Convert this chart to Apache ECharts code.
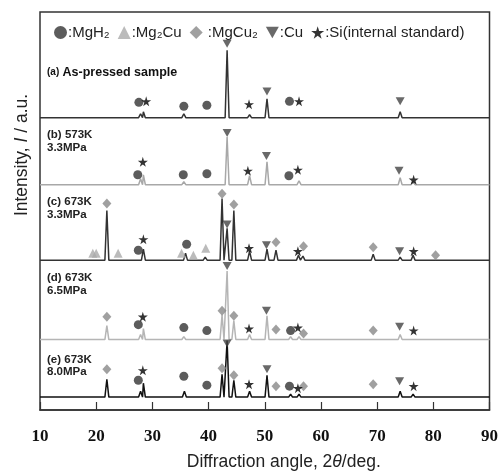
<!DOCTYPE html>
<html>
<head>
<meta charset="utf-8">
<script src="https://cdn.jsdelivr.net/npm/echarts@6/dist/echarts.min.js"></script>
<style>
  html, body { margin: 0; padding: 0; background: #fff; }
  #chart { width: 501px; height: 476px; }
</style>
</head>
<body>
<div id="chart"></div>
<script>
// x axis ticks
var xTicks = [10, 20, 30, 40, 50, 60, 70, 80, 90];

// peak lists per pattern: [2theta, peak height]
var peaksA = [[27.9, 4], [28.4, 6], [35.6, 4], [39.8, 2], [43.3, 68], [47.3, 3], [50.4, 19], [54.6, 2], [56.1, 2], [74.1, 6]];
var peaksB = [[27.9, 6], [28.4, 10], [35.6, 3], [39.8, 2], [43.3, 48], [47.3, 9], [50.4, 23], [54.6, 2], [56.1, 4], [74.1, 7], [76.4, 3]];
var peaksC = [[19.4, 2], [20.0, 2], [21.9, 50], [23.9, 1], [28.4, 11], [35.9, 7], [37.3, 2], [39.4, 3], [42.4, 62], [43.3, 32], [44.5, 50],
  [47.3, 9], [50.4, 11], [52.0, 10], [56.0, 5], [56.8, 4], [69.3, 6], [74.1, 3], [76.4, 5], [80.5, 1]];
var peaksD = [[21.9, 14], [27.9, 5], [28.4, 11], [35.6, 3], [39.8, 2], [42.4, 25], [43.3, 69], [44.5, 19], [47.3, 5], [50.4, 24],
  [52.0, 2], [54.6, 3], [56.1, 3], [69.3, 1], [74.1, 5], [76.4, 2]];
var peaksE = [[21.9, 18], [27.9, 6], [28.4, 14], [35.7, 6], [39.8, 2], [42.4, 23], [43.3, 57], [44.5, 17], [47.3, 6], [50.4, 22],
  [52.0, 2], [54.6, 3], [56.1, 3], [56.8, 2], [69.3, 2], [74.1, 6], [76.4, 3]];

// phase markers: [2theta, level]
var mgh2Marks = [[27.6, 310], [35.6, 306], [39.7, 307], [54.4, 311],
  [27.4, 237], [35.5, 237], [39.7, 238], [54.3, 236],
  [27.5, 161], [36.1, 167],
  [27.5, 86], [35.6, 83], [39.7, 80], [54.6, 80],
  [27.5, 30], [35.6, 34], [39.7, 25], [54.4, 24]];
var mg2cuMarks = [[19.4, 158], [20.0, 158], [23.9, 158], [35.2, 158], [37.3, 156], [39.5, 163]];
var mgcu2Marks = [[21.9, 208], [42.4, 218], [44.5, 207], [52.0, 169], [56.9, 165], [69.3, 164], [80.4, 156],
  [21.9, 94], [42.4, 100], [44.5, 95], [52.0, 81], [56.9, 77], [69.3, 80],
  [21.9, 41], [42.4, 42], [44.5, 35], [52.0, 24], [56.9, 24], [69.3, 26]];
var cuMarks = [[43.3, 369], [50.4, 321], [74.1, 311],
  [43.3, 279], [50.3, 256], [73.9, 241],
  [43.3, 187], [50.3, 166], [74.0, 160],
  [43.3, 145], [50.3, 100], [74.0, 84],
  [43.3, 67], [50.4, 41], [74.0, 29]];
var siMarks = [[28.9, 311], [47.2, 308], [56.1, 311],
  [28.3, 250], [47.0, 241], [55.9, 242], [76.5, 232],
  [28.4, 172], [47.2, 163], [55.9, 160], [76.5, 160],
  [28.3, 94], [47.2, 82], [55.9, 83], [76.5, 80],
  [28.3, 40], [47.2, 26], [55.9, 22], [76.5, 24]];

// layout: baseline level of each pattern
var baseA = 294.5, baseB = 227, baseC = 151, baseD = 71, baseE = 13;

var STAR = 'path://M50,0 L61,35 L98,35 L68,57 L79,91 L50,70 L21,91 L32,57 L2,35 L39,35 Z';
var TRI_DOWN = 'path://M0,0 L10,0 L5,9 Z';

// turn a peak list into a line: flat baseline with a narrow spike per peak
function trace(peaks, base) {
  var hw = 0.35;
  var pts = [[10, base]];
  peaks.forEach(function (p) {
    pts.push([p[0] - hw, base]);
    pts.push([p[0], base + p[1]]);
    pts.push([p[0] + hw, base]);
  });
  pts.push([90, base]);
  return pts;
}

function lineSeries(name, peaks, base, color) {
  return {
    name: name,
    type: 'line',
    data: trace(peaks, base),
    showSymbol: false,
    silent: true,
    lineStyle: { color: color, width: 1.5 },
    z: 2
  };
}

function markSeries(name, data, symbol, size, color) {
  return {
    name: name,
    type: 'scatter',
    data: data,
    symbol: symbol,
    symbolSize: size,
    itemStyle: { color: color },
    z: 5
  };
}

var chart = echarts.init(document.getElementById('chart'));

var labelFont = 'Liberation Sans, Arial, sans-serif';

var option = {
  animation: false,
  grid: {
    left: 40, right: 10, top: 12, bottom: 63,
    show: true, borderColor: '#333', borderWidth: 1.5, backgroundColor: 'transparent'
  },
  legend: {
    left: 49, top: 20,
    itemWidth: 13, itemHeight: 13, itemGap: 8,
    textStyle: { fontFamily: labelFont, fontSize: 15, color: '#222', padding: [0, 0, 0, -4] },
    data: [':MgH₂', ':Mg₂Cu', ' :MgCu₂', ':Cu', ':Si(internal standard)']
  },
  xAxis: {
    type: 'value', min: 10, max: 90, interval: 10,
    name: 'Diffraction angle, 2{i|θ}/deg.',
    nameLocation: 'middle', nameGap: 43,
    nameTextStyle: {
      fontFamily: labelFont, fontSize: 17.5, color: '#222', padding: [0, 0, 0, 38],
      rich: { i: { fontFamily: labelFont, fontSize: 17.5, fontStyle: 'italic', color: '#222' } }
    },
    axisLine: { lineStyle: { color: '#333', width: 1.5 } },
    axisTick: { inside: true, length: 8, lineStyle: { color: '#333', width: 1.2 } },
    axisLabel: {
      margin: 18, fontFamily: 'Liberation Serif, Times New Roman, serif', fontWeight: 'bold', fontSize: 17, color: '#111',
      customValues: xTicks
    },
    splitLine: { show: false }
  },
  yAxis: {
    type: 'value', min: 0, max: 401,
    axisLine: { show: false }, axisTick: { show: false }, axisLabel: { show: false }, splitLine: { show: false }
  },
  graphic: [
    {
      type: 'text', x: 22, y: 155, rotation: Math.PI / 2,
      style: {
        text: 'Intensity, {i|I} / a.u.', x: 0, y: 0, align: 'center', verticalAlign: 'middle',
        font: '17.5px ' + labelFont, fill: '#222',
        rich: { i: { fontFamily: labelFont, fontSize: 17.5, fontStyle: 'italic', fill: '#222' } }
      }
    },
    {
      type: 'text', left: 47, top: 66,
      style: {
        text: '{s|(a)} {b|As-pressed sample}', fill: '#111',
        rich: {
          s: { fontFamily: labelFont, fontSize: 10, fontWeight: 'bold', fill: '#111' },
          b: { fontFamily: labelFont, fontSize: 12.5, fontWeight: 'bold', fill: '#111' }
        }
      }
    },
    { type: 'text', left: 47, top: 128, style: { text: '(b) 573K\n3.3MPa', font: 'bold 11.5px ' + labelFont, fill: '#222', lineHeight: 13 } },
    { type: 'text', left: 47, top: 195, style: { text: '(c) 673K\n3.3MPa', font: 'bold 11.5px ' + labelFont, fill: '#222', lineHeight: 13 } },
    { type: 'text', left: 47, top: 271, style: { text: '(d) 673K\n6.5MPa', font: 'bold 11.5px ' + labelFont, fill: '#222', lineHeight: 13 } },
    { type: 'text', left: 47, top: 354, style: { text: '(e) 673K\n8.0MPa', font: 'bold 11.5px ' + labelFont, fill: '#222', lineHeight: 12 } }
  ],
  series: [
    lineSeries('a', peaksA, baseA, '#333'),
    lineSeries('b', peaksB, baseB, '#a8a8a8'),
    lineSeries('c', peaksC, baseC, '#333'),
    lineSeries('d', peaksD, baseD, '#b5b5b5'),
    lineSeries('e', peaksE, baseE, '#111'),
    markSeries(':MgH₂', mgh2Marks, 'circle', 9, '#333'),
    markSeries(':Mg₂Cu', mg2cuMarks, 'triangle', 9, '#aaa'),
    markSeries(' :MgCu₂', mgcu2Marks, 'diamond', [9, 10], '#888'),
    markSeries(':Cu', cuMarks, TRI_DOWN, [9, 8], '#444'),
    markSeries(':Si(internal standard)', siMarks, STAR, 10, '#000')
  ]
};

chart.setOption(option);
</script>
</body>
</html>
